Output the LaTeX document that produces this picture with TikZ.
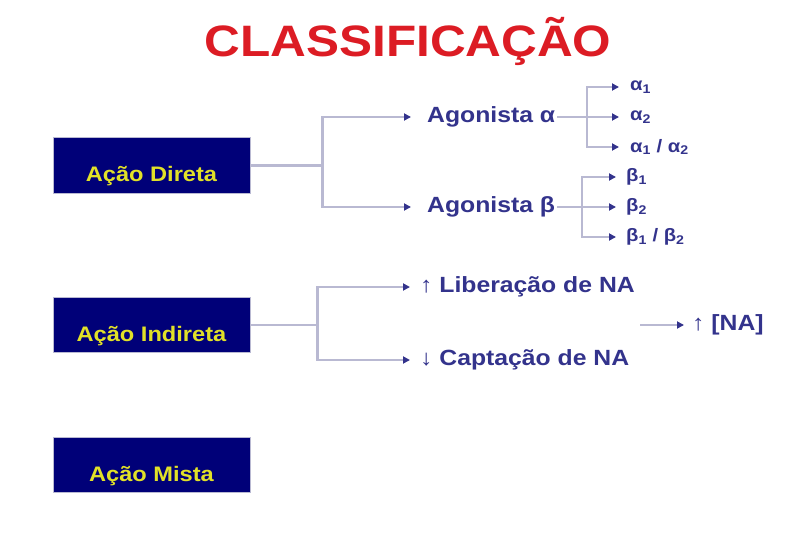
\documentclass[tikz,border=0pt]{standalone}
\usepackage{fontspec}
\setmainfont{Liberation Sans}[FakeStretch=1.125]
\usetikzlibrary{arrows.meta,positioning}
\definecolor{navybox}{RGB}{0,0,120}
\definecolor{boxtext}{RGB}{225,225,40}
\definecolor{titlered}{RGB}{220,28,36}
\definecolor{labelblue}{RGB}{51,51,140}
\definecolor{linegray}{RGB}{185,185,210}

\begin{document}
\begin{tikzpicture}[x=1pt, y=-1pt,
    acao/.style={draw=linegray, line width=1pt, fill=navybox, text=boxtext,
        font=\bfseries\fontsize{21}{24}\selectfont, minimum width=197pt,
        inner ysep=0pt, text height=44pt, text depth=11pt},
    rotulo/.style={text=labelblue, font=\bfseries\fontsize{22}{26}\selectfont,
        anchor=west, inner sep=2pt},
    sub/.style={text=labelblue, font=\bfseries\fontsize{18}{21}\selectfont,
        anchor=west, inner sep=2pt},
    ligacao/.style={draw=linegray, line width=2.5pt},
    seta/.style={ligacao, -{Triangle[length=7pt,width=7pt,color=labelblue]}}]

\useasboundingbox (0,0) rectangle (810,540);

\node[text=titlered, font=\bfseries\fontsize{44}{50}\selectfont, anchor=base](titulo) at (408,57){CLASSIFICAÇÃO};

% tipos de acao
\node[acao](direta) at (151.5,165.5){Ação Direta};
\node[acao](indireta) at (151.5,325){Ação Indireta};
\node[acao](mista) at (151.5,465){Ação Mista};

% acao direta
\node[rotulo](alfa) at (425,117){Agonista α};
\node[rotulo](beta) at (425,207){Agonista β};

\node[sub](a1) at (628,87){α\textsubscript{1}};
\node[sub](a2) at (628,117){α\textsubscript{2}};
\node[sub](a12) at (628,147){α\textsubscript{1} / α\textsubscript{2}};

\node[sub](b1) at (624,177){β\textsubscript{1}};
\node[sub](b2) at (624,207){β\textsubscript{2}};
\node[sub](b12) at (624,237){β\textsubscript{1} / β\textsubscript{2}};

% acao indireta
\node[rotulo](liber) at (418,287){↑ Liberação de NA};
\node[rotulo](capt) at (418,360){↓ Captação de NA};
\node[rotulo](conc) at (690,325){↑ [NA]};

\coordinate (jd) at ([xshift=72pt]direta.east);
\coordinate (ja) at (587,117);
\coordinate (jb) at (582,207);
\coordinate (ji) at ([xshift=67pt]indireta.east);
\coordinate (na) at (640,325);

\draw[ligacao] (direta.east) -- (jd);
\draw[seta, shorten >=14pt] (jd) |- (alfa.west);
\draw[seta, shorten >=14pt] (jd) |- (beta.west);

\draw[ligacao] (alfa.east) -- (ja);
\draw[seta, shorten >=9pt] (ja) |- (a1.west);
\draw[seta, shorten >=9pt] (ja) |- (a2.west);
\draw[seta, shorten >=9pt] (ja) |- (a12.west);

\draw[ligacao] (beta.east) -- (jb);
\draw[seta, shorten >=8pt] (jb) |- (b1.west);
\draw[seta, shorten >=8pt] (jb) |- (b2.west);
\draw[seta, shorten >=8pt] (jb) |- (b12.west);

\draw[ligacao] (indireta.east) -- (ji);
\draw[seta, shorten >=8pt] (ji) |- (liber.west);
\draw[seta, shorten >=8pt] (ji) |- (capt.west);

\draw[seta, shorten >=6pt] (na) -- (conc.west);

\end{tikzpicture}
\end{document}
